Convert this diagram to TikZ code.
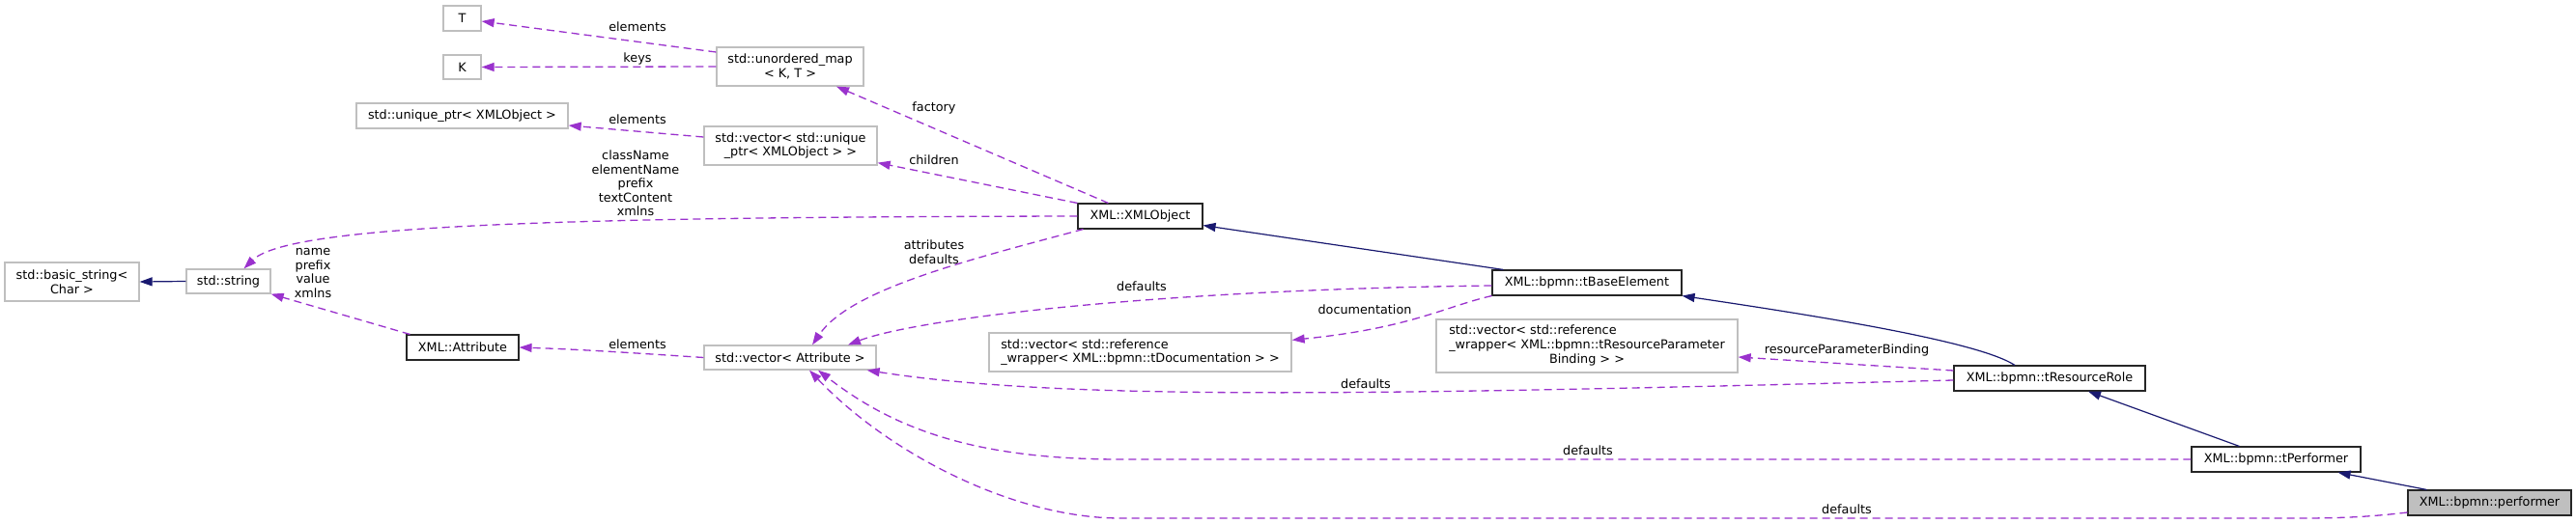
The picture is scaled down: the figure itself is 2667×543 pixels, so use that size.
\documentclass[tikz,border=0pt]{standalone}
\usepackage{fontspec}
\setmainfont{DejaVu Sans}
\usetikzlibrary{arrows.meta,calc}
\definecolor{depc}{HTML}{9A32CD}
\definecolor{inhc}{HTML}{191970}
\definecolor{gborder}{HTML}{BFBFBF}
\begin{document}
\begin{tikzpicture}[x=1pt,y=-1pt,
  font=\fontsize{12.8}{14.6}\selectfont,
  box/.style={draw, line width=1.3pt, inner sep=0pt, align=center, anchor=center},
  ext/.style={box, draw=gborder},
  docb/.style={box, draw=black!85, line width=1.1pt},
  cur/.style={docb, fill=gborder},
  usage/.style={draw=depc, line width=1.3pt, dash pattern=on 8pt off 5pt, -{Triangle[length=13pt,width=9pt]}},
  inherit/.style={draw=inhc, line width=1.2pt, -{Triangle[length=13pt,width=9pt]}},
  lbl/.style={inner sep=0pt, align=center}]
\fill[white] (0,0) rectangle (2667,543);
\useasboundingbox (0,0) rectangle (2667,543);
% nodes
\node[ext, minimum width=39pt, minimum height=26pt] (T) at (478.5,19) {T};
\node[ext, minimum width=39pt, minimum height=25pt] (K) at (478.5,69.5) {K};
\node[ext, minimum width=152pt, minimum height=40pt] (umap) at (818,69) {std::unordered\_map\\< K, T >};
\node[ext, minimum width=219pt, minimum height=26pt] (uptr) at (478.5,120) {std::unique\_ptr< XMLObject >};
\node[ext, minimum width=179pt, minimum height=40pt] (vuptr) at (818.5,151) {std::vector< std::unique\\\_ptr< XMLObject > >};
\node[ext, minimum width=139pt, minimum height=40pt] (bstr) at (74.5,292) {std::basic\_string<\\Char >};
\node[ext, minimum width=87pt, minimum height=25pt] (str) at (236.5,291.5) {std::string};
\node[docb, minimum width=116pt, minimum height=26pt] (attr) at (479,360) {XML::Attribute};
\node[ext, minimum width=178pt, minimum height=25pt] (vattr) at (818,370.5) {std::vector< Attribute >};
\node[docb, minimum width=129pt, minimum height=26pt] (xmlobj) at (1180.5,224) {XML::XMLObject};
\node[docb, minimum width=196pt, minimum height=26pt] (tbase) at (1643,293) {XML::bpmn::tBaseElement};
\node[ext, minimum width=313pt, minimum height=40pt, align=left] (vdoc) at (1180.5,365) {std::vector< std::reference\\\_wrapper< XML::bpmn::tDocumentation > >};
\node[ext, minimum width=312pt, minimum height=55pt] (vrpb) at (1643,358.5) {\begin{tabular}{@{}l@{}}std::vector< std::reference\\\_wrapper< XML::bpmn::tResourceParameter\\\multicolumn{1}{@{}c@{}}{Binding > >}\end{tabular}};
\node[docb, minimum width=198pt, minimum height=26pt] (trr) at (2122,392) {XML::bpmn::tResourceRole};
\node[docb, minimum width=175pt, minimum height=26pt] (tperf) at (2356.5,476) {XML::bpmn::tPerformer};
\node[cur, minimum width=169pt, minimum height=26pt] (perf) at (2577.5,521) {XML::bpmn::performer};
% edges
\draw[inherit] (str.west) -- (bstr.east);
\draw[usage] ($(attr.north west)+(4,0)$) -- (str.south east);
\draw[usage] (xmlobj.west) .. controls (600,225) and (300,232) .. ($(str.north)+(16,0)$);
\draw[usage] (vattr.west) .. controls (660,366) and (600,362) .. (attr.east);
\draw[usage] ($(umap.west)+(0,-15)$) -- ($(T.east)+(0,3)$);
\draw[usage] (umap.west) -- (K.east);
\draw[usage] ($(vuptr.west)+(0,-9)$) -- ($(uptr.east)+(0,10)$);
\draw[usage] ($(xmlobj.north west)+(32,0)$) -- ($(umap.south)+(48,0)$);
\draw[usage] (xmlobj.north west) -- ($(vuptr.south east)+(0,-3)$);
\draw[usage] ($(xmlobj.south west)+(6,0)$) .. controls (1000,270) and (880,300) .. ($(vattr.north)+(23,0)$);
\draw[inherit] ($(tbase.north west)+(12,0)$) -- ($(xmlobj.south east)+(0,-4)$);
\draw[usage] ($(tbase.west)+(0,3)$) .. controls (1200,300) and (950,330) .. ($(vattr.north)+(60,0)$);
\draw[usage] (tbase.south west) .. controls (1495,318) and (1460,340) .. ($(vdoc.north east)+(0,8)$);
\draw[inherit] ($(trr.north)+(-36,0)$) .. controls (2050,355) and (1900,330) .. (tbase.south east);
\draw[usage] ($(trr.west)+(0,-8)$) -- ($(vrpb.east)+(0,11.5)$);
\draw[usage] ($(trr.west)+(0,2)$) .. controls (1400,410) and (1100,415) .. ($(vattr.south east)+(-10,0)$);
\draw[inherit] ($(tperf.north)+(-38,0)$) -- ($(trr.south)+(40,0)$);
\draw[usage] (tperf.west) -- (1160,476) .. controls (1000,476) and (920,440) .. ($(vattr.south)+(29,0)$);
\draw[inherit] ($(perf.north west)+(20,0)$) -- ($(tperf.south east)+(-24,0)$);
\draw[usage] ($(perf.west)+(0,10)$) .. controls (2450,536) and (2420,537) .. (2380,537) -- (1160,537) .. controls (1050,537) and (920,470) .. ($(vattr.south)+(20,0)$);
% labels
\node[lbl] (l1) at (660,28) {elements};
\node[lbl] (l2) at (660,61) {keys};
\node[lbl] (l3) at (660,124) {elements};
\node[lbl] (l4) at (658,190) {className\\elementName\\prefix\\textContent\\xmlns};
\node[lbl] (l5) at (324,283) {name\\prefix\\value\\xmlns};
\node[lbl] (l6) at (660,357) {elements};
\node[lbl] (l7) at (967,112) {factory};
\node[lbl] (l8) at (967,166) {children};
\node[lbl] (l9) at (967,261) {attributes\\defaults};
\node[lbl] (l10) at (1182,297) {defaults};
\node[lbl] (l11) at (1413,321) {documentation};
\node[lbl] (l12) at (1912,363) {resourceParameterBinding};
\node[lbl] (l13) at (1414,398) {defaults};
\node[lbl] (l14) at (1644,467) {defaults};
\node[lbl] (l15) at (1912,528) {defaults};
\end{tikzpicture}
\end{document}
